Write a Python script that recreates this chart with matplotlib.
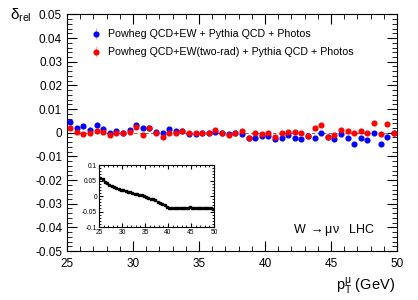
import numpy as np
import matplotlib
matplotlib.use('Agg')
import matplotlib.pyplot as plt
from matplotlib.ticker import MultipleLocator

plt.rcParams['font.family'] = ['Liberation Sans', 'DejaVu Sans']
plt.rcParams['mathtext.fontset'] = 'custom'
plt.rcParams['mathtext.rm'] = 'Liberation Sans'
plt.rcParams['mathtext.it'] = 'Liberation Sans'

# bin centres (GeV)
pt = np.arange(25.25, 50.0, 0.5)

# Powheg QCD+EW + Pythia QCD + Photos
blue = [0.0046, 0.0020, 0.0030, 0.0010, 0.0034, 0.0016, 0.0001, 0.0008, 0.0000, 0.0013,
        0.0032, 0.0020, 0.0019, 0.0005, -0.0003, 0.0015, 0.0008, 0.0007, -0.0004, -0.0004,
        0.0000, 0.0001, 0.0003, 0.0000, -0.0007, -0.0003, -0.0004, -0.0022, -0.0024, -0.0014,
        -0.0013, -0.0027, -0.0024, -0.0011, -0.0023, -0.0027, -0.0015, -0.0024, -0.0001, -0.0018,
        -0.0027, -0.0007, -0.0021, -0.0046, -0.0024, -0.0030, -0.0003, -0.0048, -0.0017, 0.0000]

# Powheg QCD+EW(two-rad) + Pythia QCD + Photos
red = [0.0021, 0.0003, -0.0007, -0.0003, 0.0007, 0.0003, -0.0008, -0.0003, 0.0000, 0.0004,
       0.0025, -0.0008, 0.0018, -0.0003, -0.0017, 0.0000, -0.0001, 0.0008, -0.0003, 0.0000,
       0.0000, 0.0001, 0.0010, 0.0000, -0.0011, -0.0003, 0.0008, -0.0023, -0.0003, -0.0004,
       -0.0001, -0.0017, -0.0003, 0.0004, 0.0004, -0.0003, -0.0015, 0.0020, 0.0031, -0.0018,
       -0.0010, 0.0010, 0.0008, 0.0001, 0.0008, 0.0001, 0.0042, -0.0004, 0.0035, 0.0000]

# inset curve
inset = [0.057, 0.054, 0.046, 0.041, 0.035, 0.032, 0.029, 0.026, 0.024, 0.021,
         0.018, 0.016, 0.014, 0.012, 0.010, 0.008, 0.006, 0.004, 0.002, 0.000,
         -0.002, -0.005, -0.008, -0.011, -0.014, -0.018, -0.022, -0.026, -0.030, -0.034,
         -0.037, -0.038, -0.038, -0.039, -0.038, -0.037, -0.037, -0.038, -0.037, -0.036,
         -0.037, -0.038, -0.038, -0.039, -0.039, -0.039, -0.040, -0.040, -0.040, -0.041]

err = 0.0006

fig = plt.figure(figsize=(4.18, 3.0), dpi=100)
ax = fig.add_axes([0.160, 0.163, 0.790, 0.789])

ax.axhline(0, color='0.45', ls=(0, (3, 2)), lw=0.8, zorder=1)
ax.errorbar(pt, blue, yerr=err, fmt='o', color='#0000ff', ms=3.4, elinewidth=0.8,
            ecolor='#aab4ff', capsize=0, label='Powheg QCD+EW + Pythia QCD + Photos', zorder=3)
ax.errorbar(pt, red, yerr=err, fmt='o', color='#ff0000', ms=3.4, elinewidth=0.8,
            ecolor='#ffb0b0', capsize=0, label='Powheg QCD+EW(two-rad) + Pythia QCD + Photos', zorder=4)

ax.set_xlim(25, 50)
ax.set_ylim(-0.05, 0.05)
ax.xaxis.set_major_locator(MultipleLocator(5))
ax.xaxis.set_minor_locator(MultipleLocator(1))
ax.set_yticks(np.arange(-0.05, 0.0501, 0.01))
ax.set_yticklabels(['-0.05', '-0.04', '-0.03', '-0.02', '-0.01', '0',
                    '0.01', '0.02', '0.03', '0.04', '0.05'])
ax.yaxis.set_minor_locator(MultipleLocator(0.002))
ax.tick_params(which='both', direction='in', top=True, right=True, labelsize=8.5)
ax.tick_params(which='major', length=7)
ax.tick_params(which='minor', length=3.5)
ax.tick_params(axis='x', pad=5)
for s in ax.spines.values():
    s.set_linewidth(0.8)

ax.legend(loc='upper left', bbox_to_anchor=(0.05, 0.955), frameon=False, fontsize=7.7,
          handletextpad=0.3, labelspacing=0.75, handlelength=1.6, borderaxespad=0)

fig.text(0.025, 0.935, r'$\delta_{\mathrm{rel}}$', fontsize=11)
fig.text(0.945, 0.03, r'p$_\mathrm{T}^{\mu}$ (GeV)', fontsize=10.5, ha='right')
ax.text(0.935, 0.055, r'W $\rightarrow\mu\nu$   LHC', transform=ax.transAxes,
        ha='right', va='bottom', fontsize=9)

# inset
axi = fig.add_axes([0.237, 0.243, 0.275, 0.207])
axi.errorbar(pt, inset, yerr=0.0015, fmt='s', color='black', ms=1.6, elinewidth=0.5, capsize=0)
axi.set_xlim(25, 50)
axi.set_ylim(-0.1, 0.1)
axi.xaxis.set_major_locator(MultipleLocator(5))
axi.xaxis.set_minor_locator(MultipleLocator(1))
axi.set_yticks([-0.1, -0.05, 0, 0.05, 0.1])
axi.set_yticklabels(['-0.1', '-0.05', '0', '0.05', '0.1'])
axi.yaxis.set_minor_locator(MultipleLocator(0.01))
axi.tick_params(which='both', direction='in', top=True, right=True, labelsize=4.8, pad=1.5)
axi.tick_params(which='major', length=3)
axi.tick_params(which='minor', length=1.5)
for s in axi.spines.values():
    s.set_linewidth(0.8)

fig.savefig('out.png', dpi=100)
